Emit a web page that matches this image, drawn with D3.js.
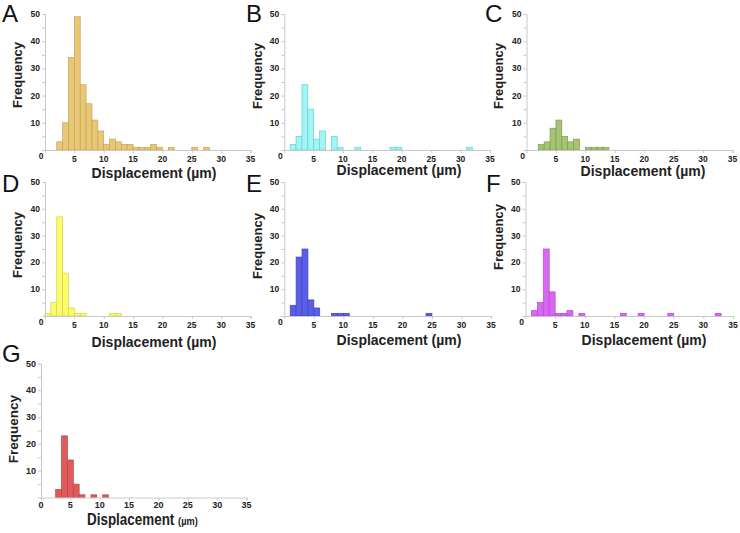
<!DOCTYPE html>
<html><head><meta charset="utf-8">
<script src="https://cdn.jsdelivr.net/npm/d3@7"></script>
<style>
body{margin:0;background:#fff;}
text{font-family:"Liberation Sans",Arial,sans-serif;}
</style></head>
<body><svg id="c" width="740" height="533"></svg>
<script>
// ---- data (bin start in µm, frequency) ----
const yTicks = [10, 20, 30, 40, 50];
const xTicks = [5, 10, 15, 20, 25, 30, 35];

const binsA = [2,3,4,5,6,7,8,9,10,11,12,13,14,15,16,17,18,19,21,25,27];
const countsA = [3,10,34,49,24,17,11,7,2,4,3,2,2,1,1,1,2,1,1,1,1];

const binsB = [1,2,3,4,5,6,8,9,12,18,19,31];
const countsB = [2,5,24,15,4,7,5,1,1,1,1,1];

const binsC = [2,3,4,5,6,7,8,10,11,12,13];
const countsC = [2,3,8,11,5,3,4,1,1,1,1];

const binsD = [0,1,2,3,4,5,6,11,12];
const countsD = [1,5,37,16,3,1,1,1,1];

const binsE = [1,2,3,4,5,8,9,10,24];
const countsE = [4,22,25,6,3,1,1,1,1];

const binsF = [1,2,3,4,5,6,7,9,16,19,24,32];
const countsF = [2,5,25,9,1,1,2,1,1,1,1,1];

const binsG = [2.5,3.5,4.5,5.5,6.5,8.5,10.5];
const countsG = [3,23,14,5,1,1,1];

const panels = [
  {id:"A", bins:binsA, counts:countsA, fill:"#e8c877", stroke:"#c7a350", x0:45, x1:250.5, yTop:14, yBase:150, lx:2, ly:22, fx:17, fy:75, tx:154, ty:178},
  {id:"B", bins:binsB, counts:countsB, fill:"#a4f4f3", stroke:"#5fd3d3", x0:284.3, x1:490, yTop:14, yBase:150, lx:246, ly:22, fx:257, fy:76, tx:399, ty:175},
  {id:"C", bins:binsC, counts:countsC, fill:"#a6c472", stroke:"#7f9c4c", x0:526.5, x1:732.5, yTop:14, yBase:150, lx:485, ly:22, fx:498, fy:76, tx:643, ty:176},
  {id:"D", bins:binsD, counts:countsD, fill:"#fbfb6c", stroke:"#d4d443", x0:45, x1:250.5, yTop:182, yBase:316, lx:2, ly:192, fx:17, fy:245, tx:154, ty:347},
  {id:"E", bins:binsE, counts:countsE, fill:"#5b5fe8", stroke:"#4044c4", x0:284.3, x1:491, yTop:182, yBase:316, lx:246, ly:192, fx:257, fy:246, tx:399, ty:345},
  {id:"F", bins:binsF, counts:countsF, fill:"#d868f1", stroke:"#b44ad0", x0:525.5, x1:733, yTop:182, yBase:316, lx:486, ly:192, fx:498, fy:237, tx:644, ty:345},
  {id:"G", bins:binsG, counts:countsG, fill:"#e05a5c", stroke:"#b84446", x0:41, x1:246.5, yTop:363.5, yBase:497.5, lx:2, ly:362, fx:13, fy:429, tx:87, ty:525}
];

const svg = d3.select("#c");
const axisCol = "#c9c9c9";

panels.forEach(p => {
  const g = svg.append("g");
  const x = d3.scaleLinear().domain([0,35]).range([p.x0, p.x1]);
  const y = d3.scaleLinear().domain([0,50]).range([p.yBase, p.yTop]);
  const big = p.id === "G";
  const tickFs = big ? 9 : 8.5;
  const labOff = big ? 10 : 11.5;

  // bars
  g.selectAll("rect").data(p.bins.map((b,i)=>({b, c:p.counts[i]})))
    .join("rect")
    .attr("x", d => x(d.b))
    .attr("width", d => x(d.b+1) - x(d.b))
    .attr("y", d => y(d.c))
    .attr("height", d => y(0) - y(d.c))
    .attr("fill", p.fill)
    .attr("stroke", p.stroke)
    .attr("stroke-width", 0.7);

  // y axis
  const ya = g.append("g").attr("transform", `translate(${p.x0},0)`)
    .call(d3.axisLeft(y).tickValues(d3.range(5,55,5)).tickSize(3).tickFormat(""));
  ya.select(".domain").attr("stroke", axisCol);
  ya.selectAll(".tick line").attr("stroke", axisCol);
  g.selectAll(".ylab").data(yTicks).join("text")
    .attr("x", p.x0 - 5).attr("y", d => y(d) + 3)
    .attr("text-anchor","end").attr("font-size", tickFs).attr("font-weight","bold").attr("fill","#222")
    .text(d => d);

  // x axis
  const xa = g.append("g").attr("transform", `translate(0,${p.yBase})`)
    .call(d3.axisBottom(x).tickValues(xTicks).tickSize(3).tickFormat(""));
  xa.select(".domain").attr("stroke", axisCol);
  xa.selectAll(".tick line").attr("stroke", axisCol);
  g.selectAll(".xlab").data(xTicks).join("text")
    .attr("x", d => x(d)).attr("y", p.yBase + labOff)
    .attr("text-anchor","middle").attr("font-size", tickFs).attr("font-weight","bold").attr("fill","#222")
    .text(d => d);
  g.append("text")
    .attr("x", big ? x(0) : x(0) - 4).attr("y", p.yBase + (big ? 10 : 8.5))
    .attr("text-anchor","middle").attr("font-size", tickFs).attr("font-weight","bold").attr("fill","#222")
    .text("0");

  // panel letter
  g.append("text").attr("x", p.lx).attr("y", p.ly)
    .attr("font-size", 24).attr("fill","#111").text(p.id);

  // Frequency label
  g.append("text").attr("transform", `translate(${p.fx + 4.5},${p.fy}) rotate(-90)`)
    .attr("text-anchor","middle").attr("font-size", big ? 13.5 : 13).attr("font-weight","bold").attr("fill","#222")
    .text("Frequency");

  // x title
  if (!big) {
    g.append("text").attr("x", p.tx).attr("y", p.ty)
      .attr("text-anchor","middle").attr("font-size", 14).attr("font-weight","bold").attr("fill","#222")
      .text("Displacement (µm)");
  } else {
    const t = g.append("text").attr("transform", `translate(${p.tx},${p.ty}) scale(0.84,1)`)
      .attr("font-weight","bold").attr("fill","#222");
    t.append("tspan").attr("font-size", 16).text("Displacement ");
    t.append("tspan").attr("font-size", 11).text("(µm)");
  }
});
</script></body></html>
